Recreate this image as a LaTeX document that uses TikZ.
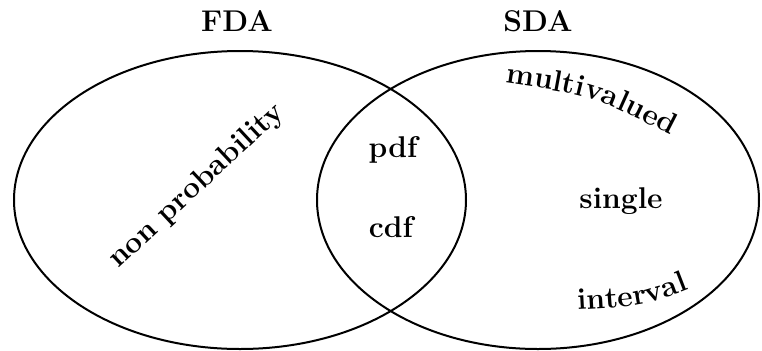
\documentclass[tikz,border=0pt]{standalone}
\usetikzlibrary{decorations.text}
\newcommand\lblfont{\bfseries\fontsize{15}{18}\selectfont}

\begin{document}
\begin{tikzpicture}[
    x=0.5pt, y=-0.5pt,
    set/.style={line width=1pt},
    lbl/.style={font=\lblfont, inner sep=0pt, anchor=base},
    curved/.style={decorate, decoration={text along path, text align=center, text={|\lblfont|#1}}},
  ]
    \useasboundingbox (0,0) rectangle (762,350);

    % the two sets
    \draw[set] (240,200) ellipse [x radius=226, y radius=149];
    \draw[set] (538,200) ellipse [x radius=221, y radius=149];

    \node[lbl] (fda) at (237,31) {FDA};
    \node[lbl] (sda) at (538,31) {SDA};

    % intersection
    \node[lbl] (pdf) at (393,157) {pdf};
    \node[lbl] (cdf) at (391,237) {cdf};

    \node[lbl, anchor=center, rotate=43] (nonprob) at (197,186) {non probability};
    \node[lbl] (single) at (621,208) {single};

    \path[curved=multivalued] (500,82) .. controls (594,96) .. (676,138);
    \path[curved=interval] (572,310) .. controls (645,306) .. (694,287);
  \end{tikzpicture}
\end{document}
